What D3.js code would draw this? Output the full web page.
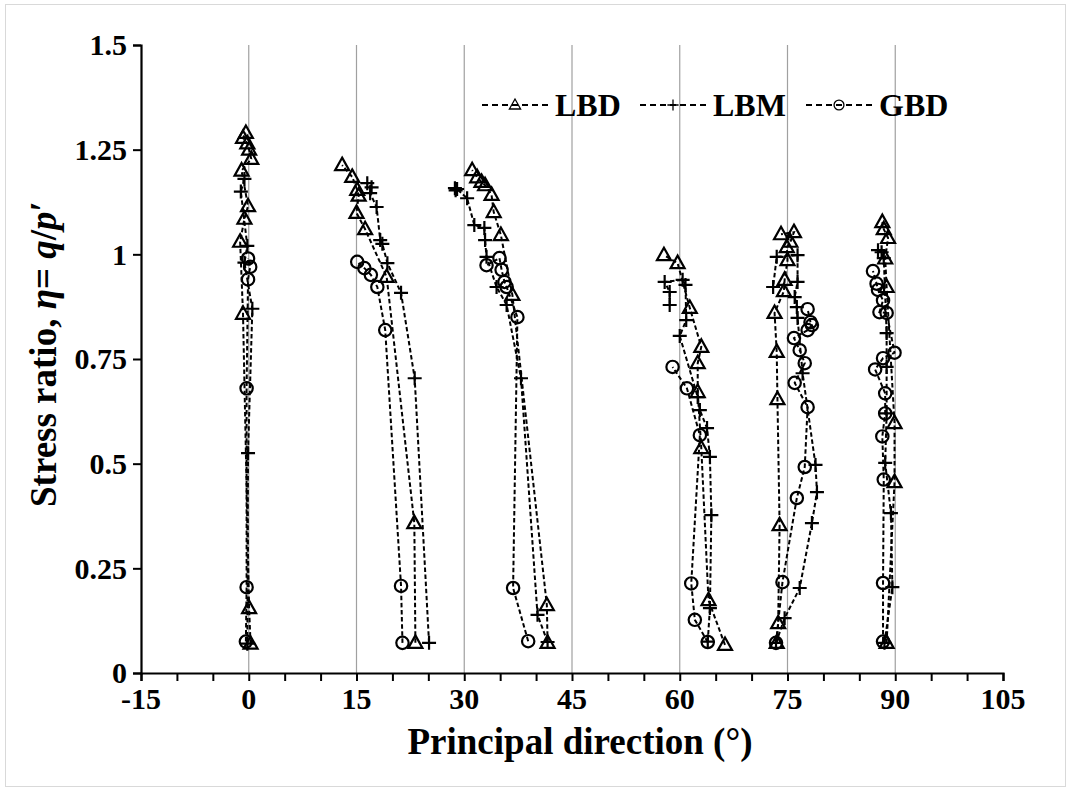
<!doctype html>
<html>
  <head>
    <meta charset="utf-8">
    <title>Stress ratio vs principal direction</title>
    <script src="https://cdnjs.cloudflare.com/ajax/libs/d3/7.8.5/d3.min.js"></script>
    <style>
      body { margin: 0; background: #fff; }
      text { font-family: "Liberation Serif", "Times New Roman", serif; font-weight: bold; fill: #000; }
    </style>
  </head>
  <body>
    <div id="chart"></div>
    <script>
      // axis ticks
      const xTicks = [-15, 0, 15, 30, 45, 60, 75, 90, 105];
      const xMinor = d3.range(-15, 106, 5);
      const yTicks = [0, 0.25, 0.5, 0.75, 1, 1.25, 1.5];
      const yTickLabels = ['0', '0.25', '0.5', '0.75', '1', '1.25', '1.5'];
      const gridDirs = [0, 15, 30, 45, 60, 75, 90];
      const seriesNames = ['LBD', 'LBM', 'GBD'];

      // [principal direction (deg), stress ratio] per test
      const lbd0 = [[0.25,0.07],[0.05,0.155],[-0.8,0.858],[-1.2,1.03],[-0.6,1.085],[-0.1,1.115],[-1.0,1.2],[0.35,1.228],[0.05,1.25],[-0.2,1.265],[-0.8,1.278],[-0.4,1.29]];
      const lbm0 = [[-0.2,0.07],[-0.1,0.525],[0.5,0.87],[-0.6,0.98],[-0.2,1.02],[-1.1,1.15],[-0.6,1.18]];
      const gbd0 = [[-0.4,0.075],[-0.3,0.205],[-0.3,0.68],[-0.1,0.94],[0.2,0.97],[-0.1,0.99]];

      const lbd15 = [[23.2,0.072],[23.05,0.358],[19.2,0.946],[16.2,1.06],[15.0,1.099],[15.3,1.14],[15.1,1.154],[14.4,1.185],[13.0,1.213]];
      const lbm15 = [[25.1,0.072],[23.1,0.704],[21.2,0.908],[19.3,0.979],[18.6,1.025],[18.3,1.034],[17.8,1.113],[16.9,1.146],[17.1,1.16],[16.5,1.17]];
      const gbd15 = [[21.4,0.072],[21.2,0.208],[19.0,0.819],[17.9,0.922],[17.0,0.951],[16.1,0.967],[15.1,0.982]];

      const lbd30 = [[41.6,0.072],[41.5,0.162],[36.7,0.903],[35.1,1.046],[34.1,1.101],[33.8,1.142],[32.9,1.165],[32.4,1.173],[31.8,1.184],[31.1,1.201]];
      const lbm30 = [[41.6,0.074],[40.2,0.139],[37.9,0.704],[35.9,0.879],[34.5,0.922],[33.1,0.994],[32.9,1.034],[32.8,1.063],[31.4,1.07],[30.4,1.134],[29.0,1.156],[28.8,1.153],[28.7,1.158]];
      const gbd30 = [[38.9,0.076],[36.8,0.203],[37.4,0.85],[35.9,0.922],[35.6,0.934],[35.2,0.963],[34.9,0.991],[33.1,0.974]];

      const lbd60 = [[66.3,0.067],[64.0,0.174],[63.0,0.537],[62.5,0.671],[62.5,0.74],[63.0,0.779],[61.4,0.872],[59.7,0.979],[57.8,0.998]];
      const lbm60 = [[63.9,0.075],[64.2,0.155],[64.4,0.377],[64.2,0.516],[63.8,0.585],[62.8,0.628],[62.5,0.659],[60.0,0.805],[60.9,0.843],[60.8,0.927],[60.4,0.939],[57.9,0.934],[58.6,0.91],[58.6,0.879]];
      const gbd60 = [[63.9,0.074],[62.1,0.127],[61.6,0.214],[62.8,0.568],[61.0,0.68],[59.0,0.731]];

      const lbd75 = [[73.5,0.072],[73.7,0.119],[73.9,0.353],[73.6,0.654],[73.5,0.767],[73.2,0.86],[74.5,0.912],[74.6,0.939],[75.0,0.986],[74.9,1.017],[75.4,1.03],[75.9,1.053],[74.1,1.048]];
      const lbm75 = [[73.4,0.072],[74.6,0.131],[76.7,0.203],[78.4,0.358],[79.1,0.432],[78.9,0.497],[77.1,0.716],[76.4,0.848],[76.3,0.874],[76.0,0.898],[76.4,0.934],[76.4,0.998],[73.5,0.994],[73.0,0.922]];
      const gbd75 = [[73.4,0.072],[74.3,0.217],[76.3,0.418],[77.4,0.492],[77.8,0.635],[76.0,0.693],[77.4,0.74],[76.7,0.771],[75.9,0.8],[77.8,0.819],[78.4,0.831],[78.2,0.838],[77.8,0.869]];

      const lbd90 = [[88.8,0.072],[89.9,0.456],[89.9,0.597],[88.8,0.922],[88.6,0.99],[89.0,1.039],[88.4,1.06],[88.2,1.077]];
      const lbm90 = [[88.5,0.072],[89.6,0.205],[89.4,0.382],[88.6,0.502],[88.8,0.62],[88.8,0.731],[88.8,0.812],[88.4,0.991],[88.1,1.005],[87.6,1.01]];
      const gbd90 = [[88.3,0.075],[88.3,0.215],[88.4,0.462],[88.2,0.565],[88.6,0.62],[88.6,0.668],[87.2,0.725],[88.3,0.752],[89.9,0.765],[88.8,0.86],[87.8,0.862],[88.3,0.89],[87.6,0.915],[87.4,0.93],[86.9,0.96]];

      const lbdTests = [lbd0, lbd15, lbd30, lbd60, lbd75, lbd90];
      const lbmTests = [lbm0, lbm15, lbm30, lbm60, lbm75, lbm90];
      const gbdTests = [gbd0, gbd15, gbd30, gbd60, gbd75, gbd90];

      const width = 1072, height = 791;
      const x = d3.scaleLinear().domain([-15, 105]).range([141, 1003]);
      const y = d3.scaleLinear().domain([0, 1.5]).range([673, 45]);

      const svg = d3.select('#chart').append('svg')
        .attr('width', width)
        .attr('height', height);

      // chart area frame
      svg.append('rect')
        .attr('x', 5.5).attr('y', 4.5)
        .attr('width', 1060).attr('height', 782)
        .attr('fill', 'none')
        .attr('stroke', '#d9d9d9');

      // vertical gridlines
      svg.append('g')
        .selectAll('line')
        .data(gridDirs)
        .join('line')
        .attr('x1', d => x(d)).attr('x2', d => x(d))
        .attr('y1', y(0)).attr('y2', y(1.5))
        .attr('stroke', '#a0a0a0')
        .attr('stroke-width', 1.2);

      // x axis with minor ticks every 5 deg
      const xAxis = svg.append('g').attr('transform', `translate(0,${y(0)})`);
      xAxis.call(d3.axisBottom(x).tickValues(xMinor).tickSize(8).tickFormat(''))
        .call(g => g.select('.domain').attr('stroke-width', 2.2))
        .call(g => g.selectAll('.tick line').attr('stroke-width', 2));
      xAxis.selectAll('.label')
        .data(xTicks)
        .join('text')
        .attr('class', 'label')
        .attr('x', d => x(d))
        .attr('y', 36)
        .attr('text-anchor', 'middle')
        .style('font-size', '30px')
        .text(d => d);

      // y axis
      const yAxis = svg.append('g').attr('transform', `translate(${x(-15)},0)`);
      yAxis.call(d3.axisLeft(y).tickValues(yTicks).tickSize(8)
          .tickFormat((d, i) => yTickLabels[i]).tickPadding(6))
        .call(g => g.select('.domain').attr('stroke-width', 2.2))
        .call(g => g.selectAll('.tick line').attr('stroke-width', 2))
        .call(g => g.selectAll('.tick text')
          .attr('dy', '0.33em')
          .style('font-family', '"Liberation Serif", serif')
          .style('font-weight', 'bold')
          .style('font-size', '30px'));

      // axis titles
      svg.append('text')
        .attr('x', 580)
        .attr('y', 754)
        .attr('text-anchor', 'middle')
        .style('font-size', '37px')
        .text('Principal direction (°)');

      const yTitle = svg.append('text')
        .attr('transform', 'translate(56,354) rotate(-90)')
        .attr('text-anchor', 'middle')
        .style('font-size', '37px');
      yTitle.append('tspan').text('Stress ratio, ');
      yTitle.append('tspan').style('font-style', 'italic').text('η');
      yTitle.append('tspan').text('= ');
      yTitle.append('tspan').style('font-style', 'italic').text('q');
      yTitle.append('tspan').text('/');
      yTitle.append('tspan').style('font-style', 'italic').text('p');
      yTitle.append('tspan').text('′');

      // marker shapes
      const markerPath = {
        LBD: 'M0,-7.5L7,5L-7,5Z',
        LBM: 'M-7,0H7M0,-7V7',
        GBD: d3.symbol(d3.symbolCircle, 120)()
      };

      const line = d3.line().x(d => x(d[0])).y(d => y(d[1]));
      const plot = svg.append('g');

      function drawSeries(tests, name) {
        const g = plot.append('g').attr('class', 'series-' + name);
        g.selectAll('path.link')
          .data(tests)
          .join('path')
          .attr('class', 'link')
          .attr('d', line)
          .attr('fill', 'none')
          .attr('stroke', '#000')
          .attr('stroke-width', 2)
          .attr('stroke-dasharray', '4.5,2.6');
        g.selectAll('path.mark')
          .data(tests.flat())
          .join('path')
          .attr('class', 'mark')
          .attr('transform', d => `translate(${x(d[0])},${y(d[1])})`)
          .attr('d', markerPath[name])
          .attr('fill', 'none')
          .attr('stroke', '#000')
          .attr('stroke-width', 2.2);
      }
      drawSeries(gbdTests, 'GBD');
      drawSeries(lbmTests, 'LBM');
      drawSeries(lbdTests, 'LBD');

      // legend
      const legendX = [482, 640, 806];
      const legend = svg.append('g').attr('transform', 'translate(0,105)');
      const item = legend.selectAll('g')
        .data(seriesNames)
        .join('g')
        .attr('transform', (d, i) => `translate(${legendX[i]},0)`);
      item.append('line')
        .attr('x1', 0).attr('x2', 66)
        .attr('stroke', '#000')
        .attr('stroke-width', 1.8)
        .attr('stroke-dasharray', '6,4');
      item.append('path')
        .attr('transform', 'translate(33,0) scale(0.8)')
        .attr('d', d => markerPath[d])
        .attr('fill', 'none')
        .attr('stroke', '#000')
        .attr('stroke-width', 1.6);
      item.append('text')
        .attr('x', 73)
        .attr('y', 11)
        .style('font-size', '32px')
        .text(d => d);
    </script>
  </body>
</html>
